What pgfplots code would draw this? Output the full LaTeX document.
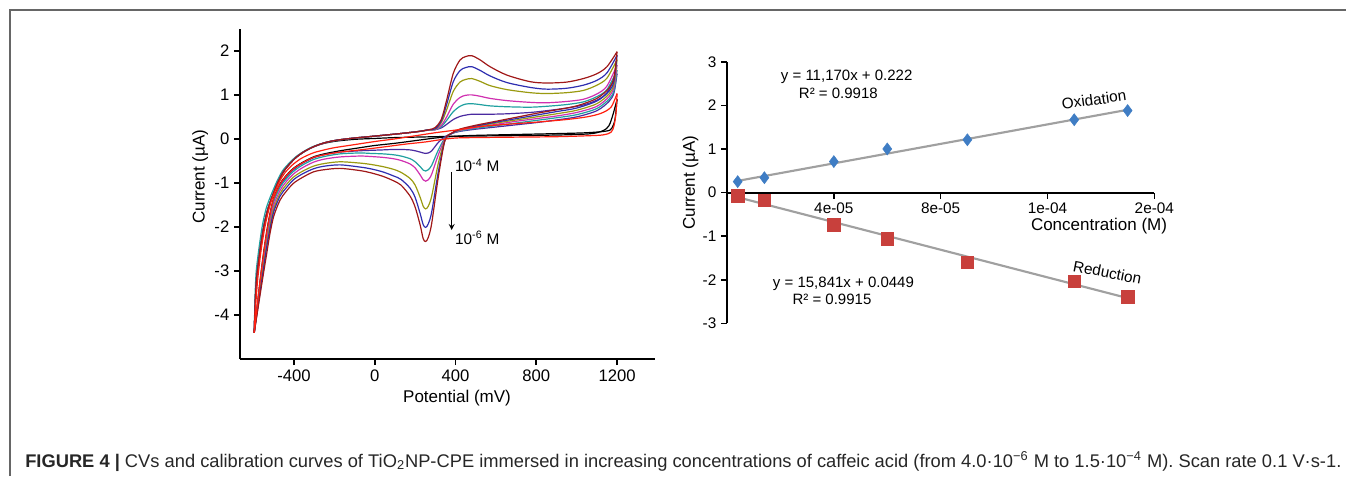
\documentclass[border=0pt]{standalone}
\usepackage{fontspec}
\setmainfont{Liberation Sans}
\usepackage{pgfplots}
\pgfplotsset{compat=1.18}

\definecolor{cDR}{HTML}{A01818}
\definecolor{cBL}{HTML}{2E2EB0}
\definecolor{cOL}{HTML}{9A9A10}
\definecolor{cMG}{HTML}{D030B0}
\definecolor{cTL}{HTML}{20A0A0}
\definecolor{cPU}{HTML}{4A2AA0}
\definecolor{cRD}{HTML}{FF2010}
\definecolor{oxblue}{HTML}{3F7DC4}
\definecolor{redsq}{HTML}{C8403C}
\definecolor{fitgray}{HTML}{A0A0A0}

\pgfplotsset{
  noarrows/.style={
    every outer x axis line/.append style={-},
    every outer y axis line/.append style={-},
    every inner x axis line/.append style={-},
    every inner y axis line/.append style={-},
    axis line style={line width=1.5pt, -},
  },
  cv/.style={smooth, line width=0.9pt, no marks},
}

\begin{document}
\begin{tikzpicture}
\useasboundingbox (0,0) rectangle (1009.5pt,357pt);
\draw[line width=1.1pt, black!60] (7.5pt,0) -- (7.5pt,349.5pt) -- (1009.5pt,349.5pt);

% ---------------- cyclic voltammograms ----------------
\begin{axis}[
  at={(180pt,87.75pt)}, anchor=south west,
  scale only axis, width=311.25pt, height=247.3pt,
  xmin=-667.5, xmax=1388, ymin=-5, ymax=2.49,
  axis x line*=bottom, axis y line*=left, noarrows,
  tick align=outside, major tick length=4.5pt,
  tick style={line width=1.2pt, black},
  xtick={-400,0,400,800,1200}, xticklabels={-400,0,400,800,1200},
  ytick={-4,-3,-2,-1,0,1,2}, yticklabels={-4,-3,-2,-1,0,1,2},
  tick label style={font=\fontsize{12.5}{14}\selectfont},
  xlabel={Potential (mV)}, ylabel={Current (µA)},
  label style={font=\fontsize{12.75}{15}\selectfont},
  xlabel style={at={(axis description cs:0.523,-0.118)}, anchor=center},
  ylabel style={at={(axis description cs:-0.096,0.553)}, anchor=center},
  clip=false,
]
% blank, black
\addplot[cv, black] coordinates {(-597,-4.40) (-592,-3.70) (-585,-3.15) (-568,-2.52) (-552,-2.05) (-535,-1.69) (-518,-1.44) (-502,-1.24) (-478,-0.97) (-453,-0.75) (-420,-0.56) (-387,-0.41) (-350,-0.29) (-304,-0.18) (-250,-0.10) (-189,-0.05) (-100,-0.01) (0,0.01) (100,0.03) (200,0.04) (300,0.05) (400,0.06) (600,0.07) (800,0.08) (1000,0.10) (1100,0.14) (1160,0.30) (1200,0.90)};
\addplot[cv, black] coordinates {(1200,0.90) (1190,0.45) (1175,0.25) (1150,0.18) (1050,0.14) (900,0.12) (700,0.10) (500,0.08) (400,0.06) (300,0.02) (200,-0.04) (100,-0.10) (0,-0.15) (-73,-0.20) (-172,-0.27) (-250,-0.34) (-304,-0.41) (-360,-0.54) (-403,-0.67) (-440,-0.84) (-469,-1.02) (-500,-1.34) (-519,-1.70) (-535,-2.10) (-551,-2.60) (-570,-3.30) (-597,-4.40)};
% purple
\addplot[cv, cPU] coordinates {(-597,-4.40) (-592,-3.70) (-585,-3.15) (-568,-2.52) (-552,-2.05) (-535,-1.69) (-518,-1.44) (-502,-1.24) (-478,-0.97) (-453,-0.75) (-420,-0.56) (-387,-0.41) (-350,-0.29) (-304,-0.18) (-250,-0.09) (-189,-0.03) (-100,0.02) (-7,0.06) (125,0.12) (220,0.17) (270,0.20) (300,0.21) (330,0.25) (356,0.33) (389,0.44) (422,0.51) (450,0.54) (480,0.56) (520,0.56) (571,0.56) (654,0.57) (769,0.60) (850,0.64) (950,0.70) (1033,0.77) (1100,0.88) (1150,1.05) (1200,1.48)};
\addplot[cv, cPU] coordinates {(1200,1.48) (1185,1.05) (1160,0.85) (1100,0.64) (1000,0.50) (900,0.43) (800,0.37) (700,0.32) (600,0.27) (500,0.22) (420,0.17) (380,0.12) (348,0.05) (315,-0.08) (282,-0.27) (265,-0.32) (252,-0.33) (240,-0.32) (225,-0.30) (200,-0.27) (175,-0.25) (130,-0.24) (92,-0.24) (40,-0.25) (-20,-0.26) (-73,-0.27) (-172,-0.30) (-250,-0.36) (-304,-0.43) (-360,-0.56) (-403,-0.70) (-440,-0.88) (-469,-1.06) (-500,-1.38) (-519,-1.78) (-535,-2.18) (-551,-2.68) (-570,-3.35) (-597,-4.40)};
% teal
\addplot[cv, cTL] coordinates {(-597,-4.40) (-593,-3.60) (-587,-3.00) (-571,-2.40) (-556,-1.95) (-539,-1.60) (-522,-1.37) (-505,-1.18) (-481,-0.93) (-456,-0.72) (-422,-0.54) (-389,-0.40) (-350,-0.28) (-304,-0.17) (-250,-0.09) (-189,-0.03) (-100,0.02) (-7,0.06) (125,0.12) (220,0.17) (270,0.21) (300,0.21) (330,0.28) (356,0.42) (389,0.62) (422,0.74) (450,0.79) (480,0.80) (520,0.78) (571,0.75) (654,0.73) (769,0.72) (850,0.74) (950,0.78) (1033,0.84) (1100,0.96) (1150,1.12) (1200,1.56)};
\addplot[cv, cTL] coordinates {(1200,1.56) (1185,1.10) (1160,0.90) (1100,0.69) (1000,0.55) (900,0.48) (800,0.42) (700,0.36) (600,0.30) (500,0.24) (420,0.18) (380,0.12) (348,0.02) (315,-0.25) (282,-0.60) (265,-0.70) (252,-0.73) (240,-0.71) (225,-0.63) (200,-0.52) (175,-0.45) (130,-0.39) (92,-0.36) (40,-0.34) (-20,-0.33) (-73,-0.32) (-172,-0.34) (-250,-0.40) (-304,-0.47) (-360,-0.60) (-403,-0.74) (-440,-0.92) (-469,-1.10) (-500,-1.42) (-519,-1.82) (-535,-2.22) (-551,-2.72) (-570,-3.40) (-597,-4.40)};
% magenta
\addplot[cv, cMG] coordinates {(-597,-4.40) (-592,-3.70) (-585,-3.15) (-568,-2.52) (-552,-2.05) (-535,-1.69) (-518,-1.44) (-502,-1.24) (-478,-0.97) (-453,-0.75) (-420,-0.56) (-387,-0.41) (-350,-0.29) (-304,-0.18) (-250,-0.09) (-189,-0.03) (-100,0.02) (-7,0.06) (125,0.12) (220,0.17) (270,0.21) (300,0.21) (330,0.31) (356,0.50) (389,0.79) (422,0.94) (450,0.99) (480,1.00) (520,0.97) (571,0.92) (654,0.87) (769,0.83) (850,0.82) (950,0.85) (1033,0.90) (1100,1.02) (1150,1.20) (1200,1.68)};
\addplot[cv, cMG] coordinates {(1200,1.68) (1185,1.18) (1160,0.96) (1100,0.74) (1000,0.60) (900,0.52) (800,0.46) (700,0.40) (600,0.33) (500,0.26) (420,0.19) (380,0.12) (348,0.00) (315,-0.36) (282,-0.80) (265,-0.93) (252,-0.96) (240,-0.93) (225,-0.82) (200,-0.66) (175,-0.57) (130,-0.49) (92,-0.45) (40,-0.42) (-20,-0.40) (-73,-0.39) (-172,-0.41) (-250,-0.46) (-304,-0.53) (-360,-0.66) (-403,-0.80) (-440,-0.98) (-469,-1.17) (-500,-1.50) (-519,-1.90) (-535,-2.30) (-551,-2.80) (-570,-3.45) (-597,-4.40)};
% olive
\addplot[cv, cOL] coordinates {(-597,-4.40) (-592,-3.70) (-585,-3.15) (-568,-2.52) (-552,-2.05) (-535,-1.69) (-518,-1.44) (-502,-1.24) (-478,-0.97) (-453,-0.75) (-420,-0.56) (-387,-0.41) (-350,-0.29) (-304,-0.18) (-250,-0.09) (-189,-0.03) (-100,0.02) (-7,0.06) (125,0.12) (220,0.17) (270,0.21) (300,0.22) (330,0.37) (356,0.66) (389,1.08) (422,1.29) (450,1.35) (480,1.37) (520,1.31) (571,1.21) (654,1.12) (769,1.05) (850,1.03) (950,1.05) (1033,1.10) (1100,1.22) (1150,1.38) (1200,1.80)};
\addplot[cv, cOL] coordinates {(1200,1.80) (1185,1.25) (1160,1.02) (1100,0.80) (1000,0.65) (900,0.57) (800,0.50) (700,0.43) (600,0.36) (500,0.28) (420,0.20) (380,0.12) (348,-0.02) (315,-0.55) (282,-1.30) (265,-1.53) (252,-1.59) (240,-1.53) (225,-1.33) (200,-1.05) (175,-0.90) (130,-0.76) (92,-0.69) (40,-0.63) (-20,-0.58) (-73,-0.55) (-172,-0.52) (-250,-0.56) (-304,-0.62) (-360,-0.74) (-403,-0.87) (-440,-1.05) (-469,-1.24) (-500,-1.58) (-519,-1.98) (-535,-2.38) (-551,-2.88) (-570,-3.50) (-597,-4.40)};
% blue
\addplot[cv, cBL] coordinates {(-597,-4.40) (-592,-3.70) (-585,-3.15) (-568,-2.52) (-552,-2.05) (-535,-1.69) (-518,-1.44) (-502,-1.24) (-478,-0.97) (-453,-0.75) (-420,-0.56) (-387,-0.41) (-350,-0.29) (-304,-0.18) (-250,-0.09) (-189,-0.03) (-100,0.02) (-7,0.06) (125,0.12) (220,0.17) (270,0.21) (300,0.23) (330,0.41) (356,0.78) (389,1.30) (422,1.55) (450,1.62) (480,1.64) (520,1.56) (571,1.43) (654,1.28) (769,1.17) (850,1.13) (950,1.15) (1033,1.22) (1100,1.33) (1150,1.50) (1200,1.90)};
\addplot[cv, cBL] coordinates {(1200,1.90) (1185,1.32) (1160,1.08) (1100,0.86) (1000,0.70) (900,0.62) (800,0.54) (700,0.46) (600,0.38) (500,0.29) (420,0.21) (380,0.12) (348,-0.03) (315,-0.74) (282,-1.66) (265,-1.93) (252,-2.01) (240,-1.95) (225,-1.70) (200,-1.33) (175,-1.12) (130,-0.92) (92,-0.84) (40,-0.75) (-20,-0.68) (-73,-0.64) (-172,-0.59) (-250,-0.62) (-304,-0.68) (-360,-0.80) (-403,-0.93) (-440,-1.12) (-469,-1.30) (-500,-1.65) (-519,-2.05) (-535,-2.45) (-551,-2.95) (-570,-3.55) (-597,-4.40)};
% dark red
\addplot[cv, cDR] coordinates {(-597,-4.40) (-592,-3.70) (-585,-3.15) (-568,-2.52) (-552,-2.05) (-535,-1.69) (-518,-1.44) (-502,-1.24) (-478,-0.97) (-453,-0.75) (-420,-0.56) (-387,-0.41) (-350,-0.29) (-304,-0.18) (-250,-0.09) (-189,-0.03) (-100,0.02) (-7,0.06) (125,0.12) (220,0.17) (270,0.21) (300,0.26) (330,0.45) (356,0.88) (389,1.49) (422,1.79) (450,1.87) (480,1.89) (520,1.80) (571,1.64) (654,1.45) (769,1.30) (850,1.27) (950,1.29) (1033,1.37) (1100,1.48) (1150,1.64) (1200,1.98)};
\addplot[cv, cDR] coordinates {(1200,1.98) (1185,1.40) (1160,1.15) (1100,0.92) (1000,0.75) (900,0.66) (800,0.58) (700,0.49) (600,0.40) (500,0.31) (420,0.22) (380,0.13) (348,-0.03) (315,-0.86) (282,-1.92) (265,-2.24) (252,-2.33) (240,-2.27) (225,-1.96) (200,-1.55) (175,-1.30) (130,-1.05) (92,-0.95) (40,-0.85) (-20,-0.77) (-73,-0.72) (-172,-0.67) (-250,-0.70) (-304,-0.75) (-360,-0.88) (-403,-1.01) (-440,-1.20) (-469,-1.39) (-500,-1.75) (-519,-2.15) (-535,-2.60) (-551,-3.05) (-570,-3.60) (-597,-4.40)};
% blank, red
\addplot[cv, cRD] coordinates {(-597,-4.40) (-590,-3.80) (-580,-3.20) (-565,-2.60) (-550,-2.15) (-535,-1.80) (-515,-1.45) (-495,-1.20) (-470,-0.95) (-445,-0.77) (-410,-0.60) (-370,-0.46) (-337,-0.38) (-300,-0.31) (-250,-0.25) (-200,-0.20) (-100,-0.13) (0,-0.06) (100,0.00) (200,0.07) (300,0.14) (400,0.20) (521,0.28) (650,0.33) (800,0.38) (950,0.44) (1050,0.50) (1120,0.58) (1170,0.72) (1200,1.03)};
\addplot[cv, cRD] coordinates {(1200,1.03) (1195,0.60) (1185,0.30) (1170,0.15) (1130,0.09) (1050,0.07) (900,0.05) (700,0.04) (500,0.03) (400,0.02) (323,-0.02) (250,-0.07) (150,-0.12) (50,-0.18) (-73,-0.25) (-172,-0.30) (-250,-0.36) (-304,-0.42) (-360,-0.55) (-403,-0.68) (-440,-0.85) (-469,-1.03) (-500,-1.35) (-519,-1.72) (-535,-2.12) (-551,-2.62) (-570,-3.30) (-597,-4.40)};

\draw[-stealth, line width=1pt] (axis cs:381,-0.75) -- (axis cs:381,-2.07);
\node[anchor=west, inner sep=0pt, font=\fontsize{11.5}{13}\selectfont] at (axis cs:397,-0.60) {10\textsuperscript{-4} M};
\node[anchor=west, inner sep=0pt, font=\fontsize{11.5}{13}\selectfont] at (axis cs:397,-2.25) {10\textsuperscript{-6} M};
\end{axis}

% ---------------- calibration curves ----------------
\begin{axis}[
  at={(545.25pt,114.5pt)}, anchor=south west,
  scale only axis, width=320.5pt, height=196.2pt,
  xmin=0, xmax=1.6e-4, ymin=-3, ymax=3,
  axis x line=middle, axis y line=left, noarrows,
  scaled x ticks=false, scaled y ticks=false,
  tick align=outside, major tick length=4.5pt,
  tick style={line width=1.2pt, black},
  xtick={4e-5,8e-5,1.2e-4,1.6e-4}, xticklabels={4e-05,8e-05,1e-04,2e-04},
  ytick={-3,-2,-1,0,1,2,3}, yticklabels={-3,-2,-1,0,1,2,3},
  tick label style={font=\fontsize{11.5}{13}\selectfont},
  xlabel={Concentration (M)}, ylabel={Current (µA)},
  label style={font=\fontsize{12.75}{15}\selectfont},
  xlabel style={at={(axis description cs:0.8706,0.373)}, anchor=center},
  ylabel style={at={(axis description cs:-0.0854,0.538)}, anchor=center, rotate=0},
  clip=false,
]
\addplot[only marks, mark=diamond*, mark size=4.5pt, oxblue] coordinates {(4e-6,0.25) (1.4e-5,0.34) (4e-5,0.71) (6e-5,1.00) (9e-5,1.21) (1.3e-4,1.67) (1.5e-4,1.88)};
\addplot[only marks, mark=square*, mark size=4.6pt, redsq] coordinates {(4e-6,-0.076) (1.4e-5,-0.17) (4e-5,-0.74) (6e-5,-1.06) (9e-5,-1.60) (1.3e-4,-2.03) (1.5e-4,-2.39)};
\addplot[fitgray, line width=1.6pt, no marks] coordinates {(4e-6,0.267) (1.5e-4,1.898)};
\addplot[fitgray, line width=1.6pt, no marks] coordinates {(4e-6,-0.108) (1.5e-4,-2.421)};

\node[font=\fontsize{11.25}{13}\selectfont] at (axis cs:4.48e-5,2.66) {y = 11,170x + 0.222};
\node[font=\fontsize{11.25}{13}\selectfont] at (axis cs:4.17e-5,2.28) {R² = 0.9918};
\node[font=\fontsize{11.25}{13}\selectfont] at (axis cs:4.36e-5,-2.09) {y = 15,841x + 0.0449};
\node[font=\fontsize{11.25}{13}\selectfont] at (axis cs:3.93e-5,-2.46) {R² = 0.9915};
\node[font=\fontsize{11.5}{13}\selectfont, rotate=8] at (axis cs:1.374e-4,2.13) {Oxidation};
\node[font=\fontsize{11.5}{13}\selectfont, rotate=-11] at (axis cs:1.424e-4,-1.83) {Reduction};
\end{axis}

% caption
\node[anchor=base west, inner sep=0pt] at (18.75pt,6.75pt) {\resizebox{987pt}{!}{\color{black!85}\textbf{FIGURE 4 |} CVs and calibration curves of TiO\textsubscript{2}NP-CPE immersed in increasing concentrations of caffeic acid (from 4.0·10\textsuperscript{−6} M to 1.5·10\textsuperscript{−4} M). Scan rate 0.1 V·s-1.}};
\end{tikzpicture}
\end{document}
